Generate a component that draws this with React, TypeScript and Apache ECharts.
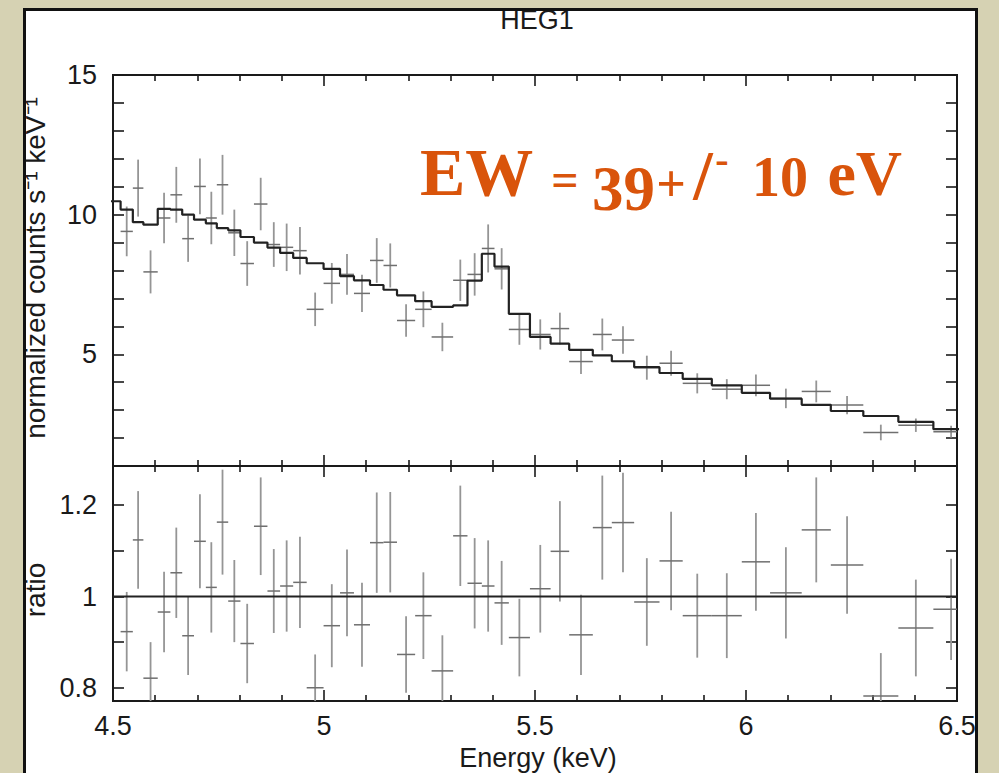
import React, { useEffect, useRef } from 'react';
import * as echarts from 'echarts';

// ---------- data ----------
const chartTitle = 'HEG1';
const xAxisTitle = 'Energy (keV)';
const yAxisTitleTop = 'normalized counts s⁻¹ keV⁻¹';
const yAxisTitleBottom = 'ratio';

// energy bin edges (keV), 45 bins
const binEdges = [
  4.518, 4.547, 4.572, 4.606, 4.636, 4.664, 4.692, 4.720, 4.746, 4.773,
  4.802, 4.834, 4.866, 4.896, 4.927, 4.959, 4.999, 5.038, 5.071, 5.109,
  5.141, 5.173, 5.216, 5.255, 5.306, 5.340, 5.374, 5.404, 5.438, 5.488,
  5.537, 5.581, 5.637, 5.682, 5.735, 5.795, 5.850, 5.919, 5.990, 6.057,
  6.132, 6.201, 6.278, 6.361, 6.444, 6.528,
];

// normalized counts s^-1 keV^-1
const counts = [
  9.40, 10.95, 7.95, 9.88, 10.71, 9.14, 11.01, 9.88, 11.07, 9.35,
  8.25, 10.38, 8.93, 8.83, 8.71, 6.61, 7.54, 7.86, 7.18, 8.36,
  8.18, 6.21, 6.61, 5.62, 7.65, 7.86, 8.79, 8.06, 5.89, 5.71,
  5.92, 4.74, 5.71, 5.51, 4.52, 4.68, 3.96, 3.75, 3.89, 3.42,
  3.67, 3.18, 2.20, 2.46, 2.23,
];
const countErrors = [
  0.89, 1.02, 0.77, 0.90, 1.00, 0.83, 1.00, 0.94, 1.07, 0.83,
  0.80, 0.94, 0.80, 0.85, 0.85, 0.60, 0.73, 0.73, 0.67, 0.80,
  0.79, 0.58, 0.64, 0.51, 0.74, 0.76, 0.86, 0.74, 0.55, 0.54,
  0.57, 0.45, 0.57, 0.49, 0.43, 0.45, 0.36, 0.36, 0.39, 0.35,
  0.39, 0.33, 0.28, 0.24, 0.21,
];

// folded model per bin
const leadingModelEdge = 4.482;
const leadingModelValue = 10.48;
const modelValues = [
  10.18, 9.73, 9.64, 10.21, 10.18, 10.00, 9.82, 9.69, 9.52, 9.44,
  9.20, 9.00, 8.82, 8.63, 8.45, 8.26, 8.06, 7.80, 7.65, 7.48,
  7.31, 7.11, 6.90, 6.70, 6.75, 7.64, 8.60, 8.14, 6.45, 5.62,
  5.38, 5.16, 4.96, 4.75, 4.54, 4.33, 4.12, 3.89, 3.62, 3.41,
  3.19, 2.97, 2.79, 2.58, 2.32,
];

// data / model ratio
const ratios = [
  0.923, 1.124, 0.821, 0.966, 1.052, 0.914, 1.121, 1.020, 1.163, 0.990,
  0.897, 1.154, 1.012, 1.023, 1.031, 0.800, 0.936, 1.008, 0.938, 1.118,
  1.119, 0.873, 0.958, 0.837, 1.133, 1.029, 1.023, 0.986, 0.910, 1.017,
  1.099, 0.916, 1.151, 1.162, 0.988, 1.078, 0.958, 0.958, 1.076, 1.008,
  1.146, 1.069, 0.782, 0.931, 0.972,
];
const ratioErrors = [
  0.087, 0.107, 0.079, 0.088, 0.099, 0.086, 0.103, 0.099, 0.115, 0.090,
  0.087, 0.107, 0.092, 0.100, 0.100, 0.073, 0.091, 0.095, 0.092, 0.110,
  0.110, 0.084, 0.095, 0.078, 0.110, 0.099, 0.100, 0.092, 0.085, 0.096,
  0.110, 0.088, 0.114, 0.109, 0.096, 0.108, 0.092, 0.093, 0.107, 0.100,
  0.115, 0.107, 0.094, 0.106, 0.111,
];

const xMin = 4.5;
const xMax = 6.5;
const topYMin = 1;
const topYMax = 15;
const topTickValues = [1, 2, 3, 4, 5, 6, 7, 8, 9, 10, 11, 12, 13, 14, 15];
const topLabelValues = [5, 10, 15];
const ratioYMin = 0.771;
const ratioYMax = 1.286;
const ratioTickValues = [0.8, 0.9, 1.0, 1.1, 1.2];
const ratioLabelValues = [0.8, 1.0, 1.2];
const ratioReference = 1;

const ewLabel = { ew: 'EW', eq: '=', value: '39', plus: '+', slash: '/', minus: '-', err: '10', unit: 'eV' };

// ---------- styles ----------
const BG = '#d6d2b3';
const INK = '#1a1a1a';
const SANS = 'Liberation Sans, Arial, sans-serif';
const SERIF = 'Liberation Serif, Times New Roman, serif';
const ORANGE = '#d9540b';

const tickStyle = { color: INK, width: 1.6 };

function xAxisDef(gridIndex: number, position: 'top' | 'bottom', labels: boolean) {
  return {
    type: 'value',
    gridIndex,
    position,
    min: xMin,
    max: xMax,
    interval: 0.5,
    axisLine: { show: false },
    splitLine: { show: false },
    axisTick: { show: true, inside: true, length: 11, lineStyle: tickStyle },
    minorTick: { show: true, splitNumber: 5, length: 6, lineStyle: tickStyle },
    minorSplitLine: { show: false },
    axisLabel: {
      show: labels,
      fontSize: 27,
      color: INK,
      fontFamily: SANS,
      margin: 11,
      showMinLabel: true,
      showMaxLabel: true,
    },
  };
}

function yAxisDef(
  gridIndex: number,
  position: 'left' | 'right',
  min: number,
  max: number,
  ticks: number[],
  labels: number[] | null,
) {
  return {
    type: 'value',
    gridIndex,
    position,
    min,
    max,
    axisLine: { show: false },
    splitLine: { show: false },
    axisTick: { show: true, inside: true, length: 11, lineStyle: tickStyle, customValues: ticks },
    axisLabel: labels
      ? {
          show: true,
          customValues: labels,
          fontSize: 27,
          color: INK,
          fontFamily: SANS,
          margin: 16,
          formatter: (v: number) => (Number.isInteger(v) ? String(v) : v.toFixed(1)),
        }
      : { show: false },
  };
}

function errorCrossRenderer(params: any, api: any) {
  const lo = api.value(0);
  const hi = api.value(1);
  const v = api.value(2);
  const e = api.value(3);
  const c = (lo + hi) / 2;
  const pl = api.coord([lo, v]);
  const pr = api.coord([hi, v]);
  const pt = api.coord([c, v + e]);
  const pb = api.coord([c, v - e]);
  return {
    type: 'group',
    children: [
      {
        type: 'line',
        shape: { x1: pt[0], y1: pt[1], x2: pb[0], y2: pb[1] },
        style: { stroke: '#959595', lineWidth: 1.8 },
      },
      {
        type: 'line',
        shape: { x1: pl[0], y1: pl[1], x2: pr[0], y2: pr[1] },
        style: { stroke: '#6f6f6f', lineWidth: 1.5 },
      },
    ],
  };
}

function textEl(text: string, x: number, y: number, size: number, opts: any = {}) {
  return {
    type: 'text',
    x,
    y,
    z: 10,
    rotation: opts.rotation || 0,
    style: {
      text,
      fill: opts.fill || INK,
      fontSize: size,
      fontFamily: opts.family || SANS,
      fontWeight: opts.weight || 'normal',
      align: opts.align || 'center',
      verticalAlign: 'middle',
      textAlign: opts.align || 'center',
      textVerticalAlign: 'middle',
    },
  };
}

function buildOption() {
  const countData = counts.map((c, i) => [binEdges[i], binEdges[i + 1], c, countErrors[i]]);
  const ratioData = ratios.map((r, i) => [binEdges[i], binEdges[i + 1], r, ratioErrors[i]]);
  const modelLine: number[][] = [[leadingModelEdge, leadingModelValue]];
  modelValues.forEach((m, i) => modelLine.push([binEdges[i], m]));
  modelLine.push([binEdges[binEdges.length - 1], modelValues[modelValues.length - 1]]);

  const orangeText = (t: string, x: number, y: number, size: number, align = 'left') =>
    textEl(t, x, y, size, { fill: ORANGE, family: SERIF, weight: 'bold', align });

  return {
    animation: false,
    backgroundColor: BG,
    grid: [
      { left: 113, top: 75, width: 844, height: 391, show: true, borderColor: INK, borderWidth: 2, backgroundColor: 'transparent' },
      { left: 113, top: 466, width: 844, height: 235, show: true, borderColor: INK, borderWidth: 2, backgroundColor: 'transparent' },
    ],
    xAxis: [
      xAxisDef(0, 'bottom', false),
      xAxisDef(0, 'top', false),
      xAxisDef(1, 'bottom', true),
      xAxisDef(1, 'top', false),
    ],
    yAxis: [
      yAxisDef(0, 'left', topYMin, topYMax, topTickValues, topLabelValues),
      yAxisDef(0, 'right', topYMin, topYMax, topTickValues, null),
      yAxisDef(1, 'left', ratioYMin, ratioYMax, ratioTickValues, ratioLabelValues),
      yAxisDef(1, 'right', ratioYMin, ratioYMax, ratioTickValues, null),
    ],
    series: [
      {
        type: 'custom',
        name: 'data',
        xAxisIndex: 0,
        yAxisIndex: 0,
        clip: true,
        renderItem: errorCrossRenderer,
        encode: { x: [0, 1], y: 2 },
        data: countData,
        z: 3,
      },
      {
        type: 'line',
        name: 'model',
        xAxisIndex: 0,
        yAxisIndex: 0,
        step: 'end',
        symbol: 'none',
        clip: true,
        lineStyle: { color: '#222', width: 2.2 },
        data: modelLine,
        z: 4,
      },
      {
        type: 'custom',
        name: 'ratio',
        xAxisIndex: 2,
        yAxisIndex: 2,
        clip: true,
        renderItem: errorCrossRenderer,
        encode: { x: [0, 1], y: 2 },
        data: ratioData,
        z: 3,
      },
      {
        type: 'line',
        name: 'unity',
        xAxisIndex: 2,
        yAxisIndex: 2,
        symbol: 'none',
        lineStyle: { color: '#222', width: 2 },
        data: [
          [xMin, ratioReference],
          [xMax, ratioReference],
        ],
        z: 4,
      },
    ],
    graphic: [
      {
        type: 'rect',
        z: -10,
        shape: { x: 24.5, y: 9.5, width: 952, height: 780 },
        style: { fill: '#ffffff', stroke: 'none' },
      },
      textEl(chartTitle, 537, 20, 27),
      textEl(xAxisTitle, 538, 758, 27),
      textEl(yAxisTitleTop, 35, 268, 28, { rotation: Math.PI / 2 }),
      textEl(yAxisTitleBottom, 35, 590, 28, { rotation: Math.PI / 2 }),
      orangeText(ewLabel.ew, 420, 172, 68),
      orangeText(ewLabel.eq, 565, 179, 48, 'center'),
      orangeText(ewLabel.value, 592, 188.7, 63),
      orangeText(ewLabel.plus, 671, 183, 52, 'center'),
      orangeText(ewLabel.slash, 703, 175, 70, 'center'),
      orangeText(ewLabel.minus, 722, 159.6, 40, 'center'),
      orangeText(ewLabel.err, 780, 176.8, 56, 'center'),
      orangeText(ewLabel.unit, 902, 173.4, 64, 'right'),
      {
        type: 'rect',
        z: 20,
        shape: { x: 0, y: 0, width: 23, height: 773 },
        style: { fill: BG },
      },
      {
        type: 'rect',
        z: 20,
        shape: { x: 979, y: 0, width: 20, height: 773 },
        style: { fill: BG },
      },
      {
        type: 'rect',
        z: 21,
        shape: { x: 24.5, y: 9.5, width: 952, height: 780 },
        style: { fill: 'none', stroke: '#111', lineWidth: 3 },
      },
    ],
  };
}

export default function App() {
  const ref = useRef<HTMLDivElement>(null);
  useEffect(() => {
    if (!ref.current) return;
    const chart = echarts.init(ref.current, null, { renderer: 'svg' });
    chart.setOption(buildOption() as any);
    return () => chart.dispose();
  }, []);
  return (
    <div
      ref={ref}
      style={{ position: 'fixed', left: 0, top: 0, width: 999, height: 773 }}
    />
  );
}
